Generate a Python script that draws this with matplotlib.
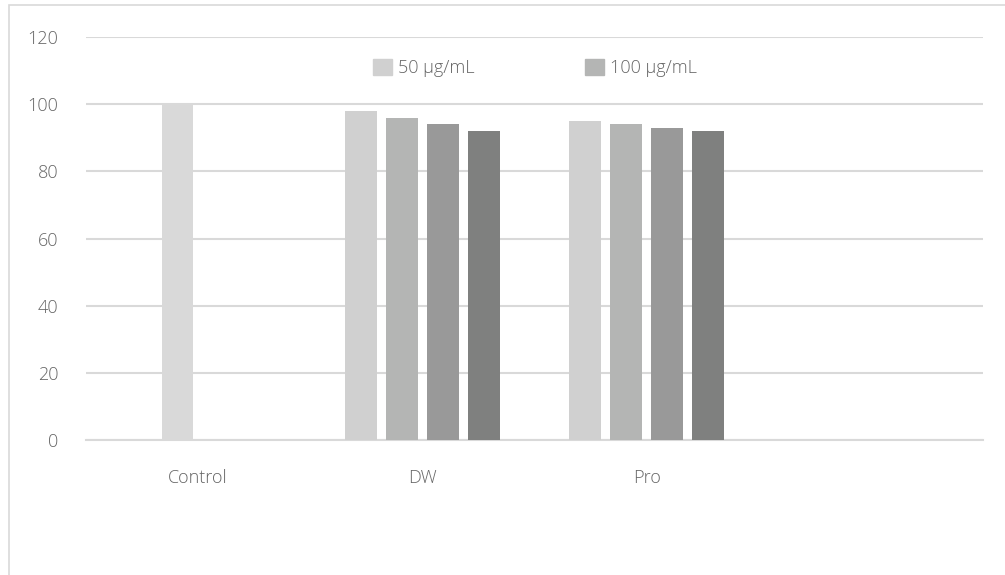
import numpy as np
import matplotlib
matplotlib.use("Agg")
import matplotlib.pyplot as plt
from matplotlib.patches import Patch, Rectangle

categories = ["Control", "DW", "Pro", ""]
# four concentration series per treatment; Control has a single bar
control_values = [100, np.nan, np.nan, np.nan]
series_values = [
    [np.nan, 98, 95, np.nan],
    [np.nan, 96, 94, np.nan],
    [np.nan, 94, 93, np.nan],
    [np.nan, 92, 92, np.nan],
]
series_colors = ["#d0d0d0", "#b4b5b4", "#999999", "#7f807f"]
control_color = "#d9d9d9"
legend_labels = ["50 μg/mL", "100 μg/mL"]
yticks = [0, 20, 40, 60, 80, 100, 120]

plt.rcParams["font.family"] = ["Open Sans", "DejaVu Sans"]

fig = plt.figure(figsize=(10.05, 5.75), dpi=100)
fig.patches.append(Rectangle((9 / 1005, -0.01), 1.02, 1 - 5 / 575 + 0.01,
                             transform=fig.transFigure, fill=False,
                             edgecolor="#d9d9d9", lw=1.2))
ax = fig.add_axes([86 / 1005, 1 - 440 / 575, (983 - 86) / 1005, (440 - 37) / 575])

x = np.arange(len(categories))
width = 0.14
step = 0.183
offsets = (np.arange(4) - 1.5) * step

ax.bar(x + offsets[1], control_values, width, color=control_color, zorder=3)
for vals, col, off in zip(series_values, series_colors, offsets):
    ax.bar(x + off, vals, width, color=col, zorder=3)

ax.set_xlim(-0.5, len(categories) - 0.5)
ax.set_ylim(0, 120)
ax.set_yticks(yticks)
ax.set_xticks(x)
ax.set_xticklabels(categories)
ax.yaxis.grid(True, color="#d9d9d9", lw=1.5, zorder=0)
ax.set_axisbelow(True)
for s in ["top", "right", "left"]:
    ax.spines[s].set_visible(False)
ax.spines["bottom"].set_color("#d9d9d9")
ax.spines["bottom"].set_linewidth(1.5)
ax.tick_params(axis="both", length=0, colors="#666666", labelsize=13)
ax.tick_params(axis="x", pad=21)
ax.tick_params(axis="y", pad=20)
for lbl in ax.get_xticklabels() + ax.get_yticklabels():
    lbl.set_fontweight("light")

handles = [Patch(color=series_colors[0]), Patch(color=series_colors[1])]
leg = ax.legend(handles, legend_labels, ncol=2, frameon=False, loc="center left",
                bbox_to_anchor=((373 - 86) / 897, (440 - 68) / 403),
                borderaxespad=0, borderpad=0,
                handlelength=1.05, handleheight=0.95, handletextpad=0.35,
                columnspacing=6.1, fontsize=13, labelcolor="#666666")
for t in leg.get_texts():
    t.set_fontweight("light")

fig.savefig("out.png", dpi=100)
